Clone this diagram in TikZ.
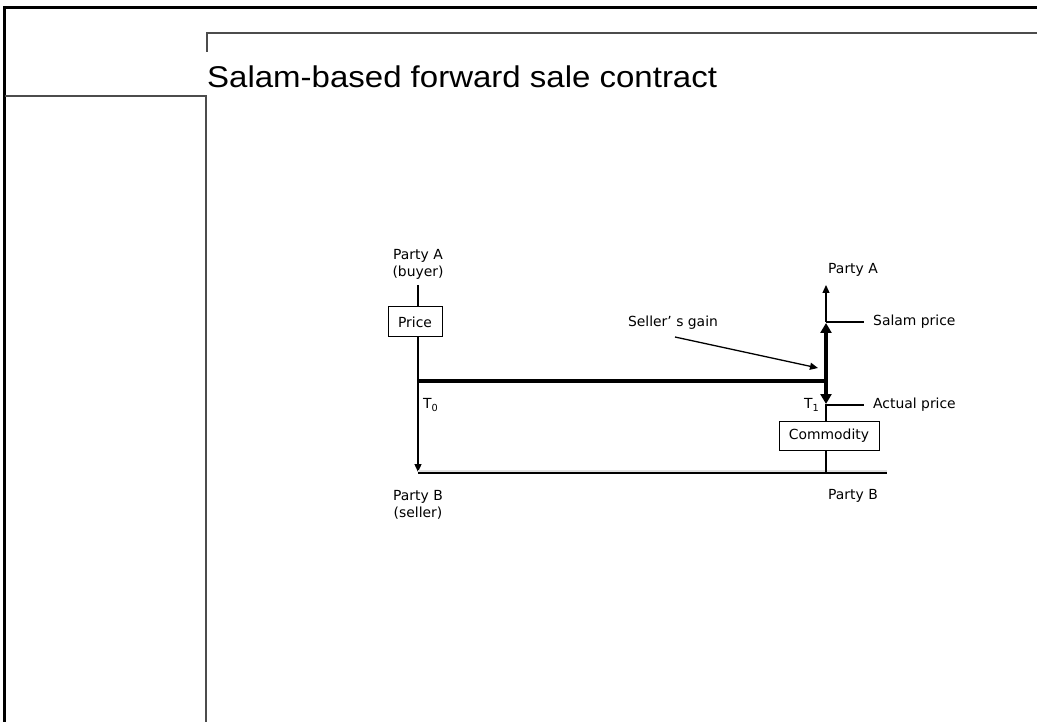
\documentclass[tikz,border=0pt]{standalone}
\usepackage{fontspec}
\setmainfont{DejaVu Sans}
\newfontfamily\titlefont{Liberation Sans}
\usetikzlibrary{arrows.meta}
\begin{document}
\begin{tikzpicture}[x=1pt,y=-1pt,
  lbl/.style={font=\fontsize{13.9}{17}\selectfont, inner sep=0pt, align=center},
  boxn/.style={draw, line width=1pt, font=\fontsize{13.9}{17}\selectfont, inner sep=0pt},
  thinl/.style={line width=1.3pt},
  thinar/.style={line width=1.3pt, -{Triangle[length=8pt,width=7pt]}},
  thickl/.style={line width=4pt},
  thickar/.style={line width=4pt, -{Triangle[length=10pt,width=11pt]}},
  frame/.style={line width=2.6pt, black},
  inner/.style={line width=1.6pt, black!70}]
\useasboundingbox (0,0) rectangle (1037,722);
% slide frame
\draw[frame] (4.5,722) -- (4.5,7.5) -- (1037,7.5);
\draw[inner] (207,52) -- (207,33) -- (1037,33);
\draw[inner] (5,96) -- (206,96) -- (206,722);
% title
\node[anchor=base west, inner sep=0pt, font=\titlefont\fontsize{30}{35}\selectfont] (title) at (207,88) {\scalebox{1.1}[1]{Salam-based forward sale contract}};
% left side
\node[lbl] (pa1) at (418,264) {Party A\\(buyer)};
\node[boxn, minimum width=54pt, minimum height=30pt] (price) at (415,322) {Price};
\coordinate (a1) at (418,285);
\coordinate (t0bot) at (418,472);
\draw[thinl] (a1) -- (a1 |- price.north);
\draw[thinar] (price.south -| a1) -- (t0bot);
\node[lbl, anchor=west] (t0) at (423,405) {T\textsubscript{0}};
\node[lbl] (pb1) at (418,505) {Party B\\(seller)};
% base line
\coordinate (baseL) at (418,473);
\coordinate (baseR) at (887,473);
\draw[line width=2.5pt, black!12] ([yshift=2pt]baseL) -- ([yshift=2pt]baseR);
\draw[thinl] (baseL) -- (baseR);
% thick timeline
\coordinate (h0) at (418,381);
\coordinate (h1) at (826,381);
\coordinate (salam) at (826,322);
\coordinate (actual) at (826,404);
\coordinate (pa2tip) at (826,285);
\draw[thickl] (h0) -- (h1);
\draw[thinar] (salam) -- (pa2tip);
\draw[thickar] (h1) -- ([yshift=-1pt]salam);
\draw[thickar] (h1) -- (actual);
\coordinate (salamR) at (864,322);
\coordinate (actualR) at (864,405);
\draw[thinl] (salam) -- (salamR);
\draw[thinl] (826,405) -- (actualR);
\node[lbl] (pa2) at (853,270) {Party A};
\node[lbl, anchor=west] (salamt) at (873,322) {Salam price};
\node[lbl, anchor=west] (actualt) at (873,405) {Actual price};
\node[lbl, anchor=west] (t1) at (804,405) {T\textsubscript{1}};
% commodity
\node[boxn, minimum width=100pt, minimum height=29pt] (comm) at (829,435.5) {Commodity};
\draw[thinl] (actual) -- (actual |- comm.north);
\draw[thinl] (actual |- comm.south) -- (826,473);
\node[lbl] (pb2) at (853,496) {Party B};
% seller's gain
\node[lbl] (gain) at (673,323) {Seller’ s gain};
\coordinate (gs) at (675,337);
\coordinate (ge) at (818,368);
\draw[thinar] (gs) -- (ge);
\end{tikzpicture}
\end{document}
